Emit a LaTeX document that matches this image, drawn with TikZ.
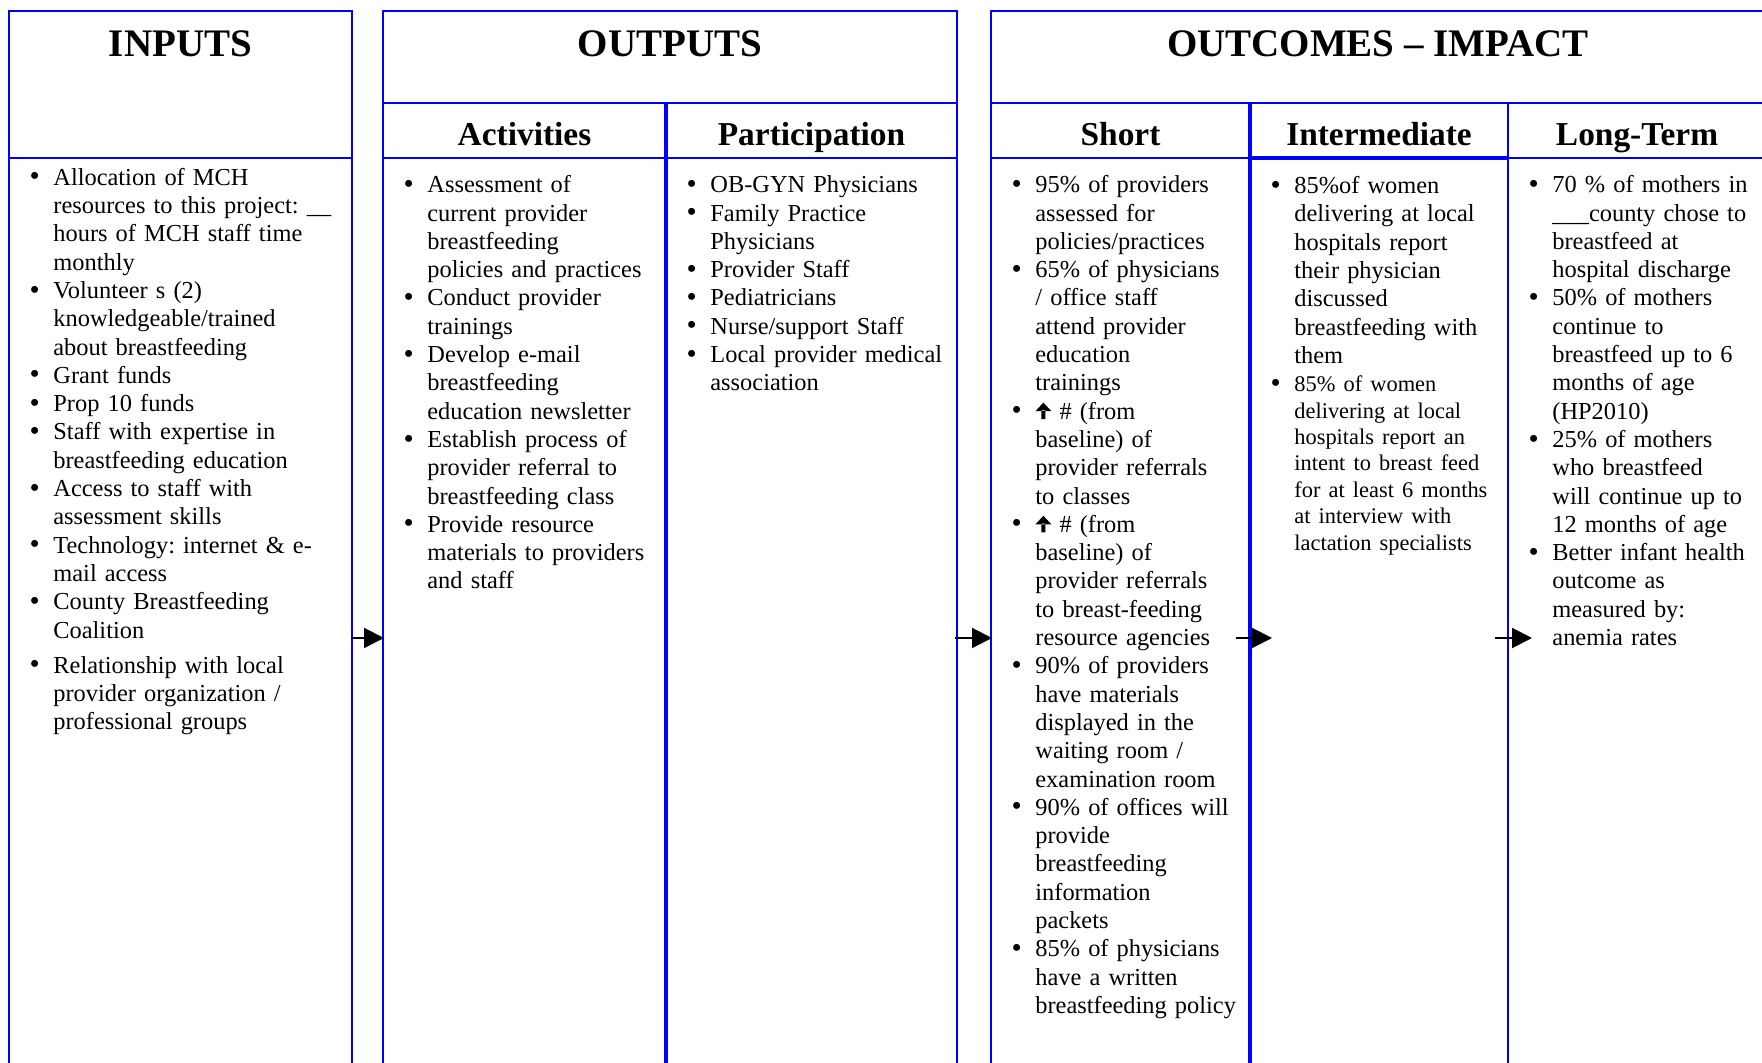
\documentclass[tikz,border=0pt]{standalone}
\usepackage{fontspec}
\setmainfont{Liberation Serif}
\usetikzlibrary{arrows.meta}
\definecolor{frameblue}{RGB}{0,0,255}
\frenchspacing
\newsavebox\uparrbox
\newcommand\upar{\usebox\uparrbox}
\newcommand\bul{\raisebox{-0.3pt}{\fontsize{14.5}{14.5}\selectfont\textbullet}}
\newcommand\bi[1]{\par\noindent\hangindent=22pt\hangafter=1\makebox[22pt][l]{\hspace{12.7pt}\makebox[0pt]{\bul}}{\let\\\newline#1}}
\begin{document}
\sbox\uparrbox{\begin{pgfpicture}\pgfpathrectangle{\pgfpoint{-1pt}{0pt}}{\pgfpoint{2pt}{4.4pt}}\pgfpathmoveto{\pgfpoint{-4pt}{4pt}}\pgfpathlineto{\pgfpoint{0pt}{8.3pt}}\pgfpathlineto{\pgfpoint{4pt}{4pt}}\pgfpathclose\pgfusepath{fill}\end{pgfpicture}}
\begin{tikzpicture}[x=0.5pt,y=-0.5pt,
  frame/.style={draw=frameblue,line width=1pt},
  thickframe/.style={draw=frameblue,line width=2pt},
  hdr/.style={anchor=base,inner sep=0pt,font=\fontsize{19.5}{23}\selectfont\bfseries},
  subhdr/.style={anchor=base,inner sep=0pt,font=\fontsize{16.7}{20}\selectfont\bfseries},
  col/.style={anchor=base west,inner sep=0pt,execute at begin node={\raggedright\frenchspacing},font=\fontsize{12.2}{14.15}\selectfont},
  flow/.style={draw=black,line width=1pt,-{Triangle[length=10pt,width=10pt]}}]
\useasboundingbox (0,0) rectangle (1762,1063);
\clip (0,0) rectangle (1762,1063);
% frames
\draw[frame] (9,1075) -- (9,11) -- (352,11) -- (352,1075);
\draw[frame] (9,158) -- (352,158);
\draw[frame] (383,1075) -- (383,11) -- (957,11) -- (957,1075);
\draw[frame] (383,103) -- (957,103);
\draw[frame] (383,158) -- (957,158);
\draw[thickframe] (666,103) -- (666,1075);
\draw[frame] (991,1075) -- (991,11) -- (1780,11);
\draw[frame] (991,103) -- (1780,103);
\draw[frame] (991,158) -- (1780,158);
\draw[thickframe] (1250,103) -- (1250,1075);
\draw[thickframe] (1250,158) -- (1508,158);
\draw[frame] (1508,103) -- (1508,1075);
% headers
\node[hdr] (hin) at (180.5,56.5) {INPUTS};
\node[hdr] (hout) at (670,56.5) {OUTPUTS};
\node[hdr] (hoc) at (1378,56.5) {OUTCOMES -- IMPACT};
\node[subhdr] (hact) at (524.5,146) {Activities};
\node[subhdr] (hpart) at (811.5,146) {Participation};
\node[subhdr] (hshort) at (1120.5,146) {Short};
\node[subhdr] (hint) at (1379,146) {Intermediate};
\node[subhdr] (hlong) at (1637,146) {Long-Term};
% columns
\node[col,text width=165pt] (inputs) at (9,157) {%
\bi{Allocation of MCH\\ resources to this project: \_\_\\ hours of MCH staff time\\ monthly}
\bi{Volunteer s (2)\\ knowledgeable/trained\\ about breastfeeding}
\bi{Grant funds}
\bi{Prop 10 funds}
\bi{Staff with expertise in\\ breastfeeding education}
\bi{Access to staff with\\ assessment skills}
\bi{Technology: internet \& e-\\ mail access}
\bi{County Breastfeeding\\ Coalition}
\par\vspace{3.4pt}
\bi{Relationship with local\\ provider organization /\\ professional groups}\par};
\node[col,text width=138pt] (act) at (383,164.5) {%
\bi{Assessment of\\ current provider\\ breastfeeding\\ policies and practices}
\bi{Conduct provider\\ trainings}
\bi{Develop e-mail\\ breastfeeding\\ education newsletter}
\bi{Establish process of\\ provider referral to\\ breastfeeding class}
\bi{Provide resource\\ materials to providers\\ and staff}\par};
\node[col,text width=142pt] (part) at (666,164.5) {%
\bi{OB-GYN Physicians}
\bi{Family Practice\\ Physicians}
\bi{Provider Staff}
\bi{Pediatricians}
\bi{Nurse/support Staff}
\bi{Local provider medical\\ association}\par};
\node[col,text width=127pt] (short) at (991,164.5) {%
\bi{95\% of providers\\ assessed for\\ policies/practices}
\bi{65\% of physicians\\ / office staff\\ attend provider\\ education\\ trainings}
\bi{\upar\ \# (from\\ baseline) of\\ provider referrals\\ to classes}
\bi{\upar\ \# (from\\ baseline) of\\ provider referrals\\ to breast-feeding\\ resource agencies}
\bi{90\% of providers\\ have materials\\ displayed in the\\ waiting room /\\ examination room}
\bi{90\% of offices will\\ provide\\ breastfeeding\\ information\\ packets}
\bi{85\% of physicians\\ have a written\\ breastfeeding policy}\par};
\node[col,text width=127pt] (inter) at (1250,165.3) {%
\bi{85\%of women\\ delivering at local\\ hospitals report\\ their physician\\ discussed\\ breastfeeding with\\ them}
\par\vspace{1pt}
{\fontsize{11.2}{13.2}\selectfont
\bi{85\% of women\\ delivering at local\\ hospitals report an\\ intent to breast feed\\ for at least 6 months\\ at interview with\\ lactation specialists}\par}};
\node[col,text width=127pt] (long) at (1508,164.5) {%
\bi{70 \% of mothers in\\ \_\_\_county chose to\\ breastfeed at\\ hospital discharge}
\bi{50\% of mothers\\ continue to\\ breastfeed up to 6\\ months of age\\ (HP2010)}
\bi{25\% of mothers\\ who breastfeed\\ will continue up to\\ 12 months of age}
\bi{Better infant health\\ outcome as\\ measured by:\\ anemia rates}\par};
% connectors
\coordinate (a1s) at (351,638); \coordinate (a1e) at (384,638);
\coordinate (a2s) at (955,638); \coordinate (a2e) at (992,638);
\coordinate (a3s) at (1236,638); \coordinate (a3e) at (1272,638);
\coordinate (a4s) at (1495,638); \coordinate (a4e) at (1532,638);
\draw[flow] (a1s) -- (a1e);
\draw[flow] (a2s) -- (a2e);
\draw[flow] (a3s) -- (a3e);
\draw[flow] (a4s) -- (a4e);
\end{tikzpicture}
\end{document}
